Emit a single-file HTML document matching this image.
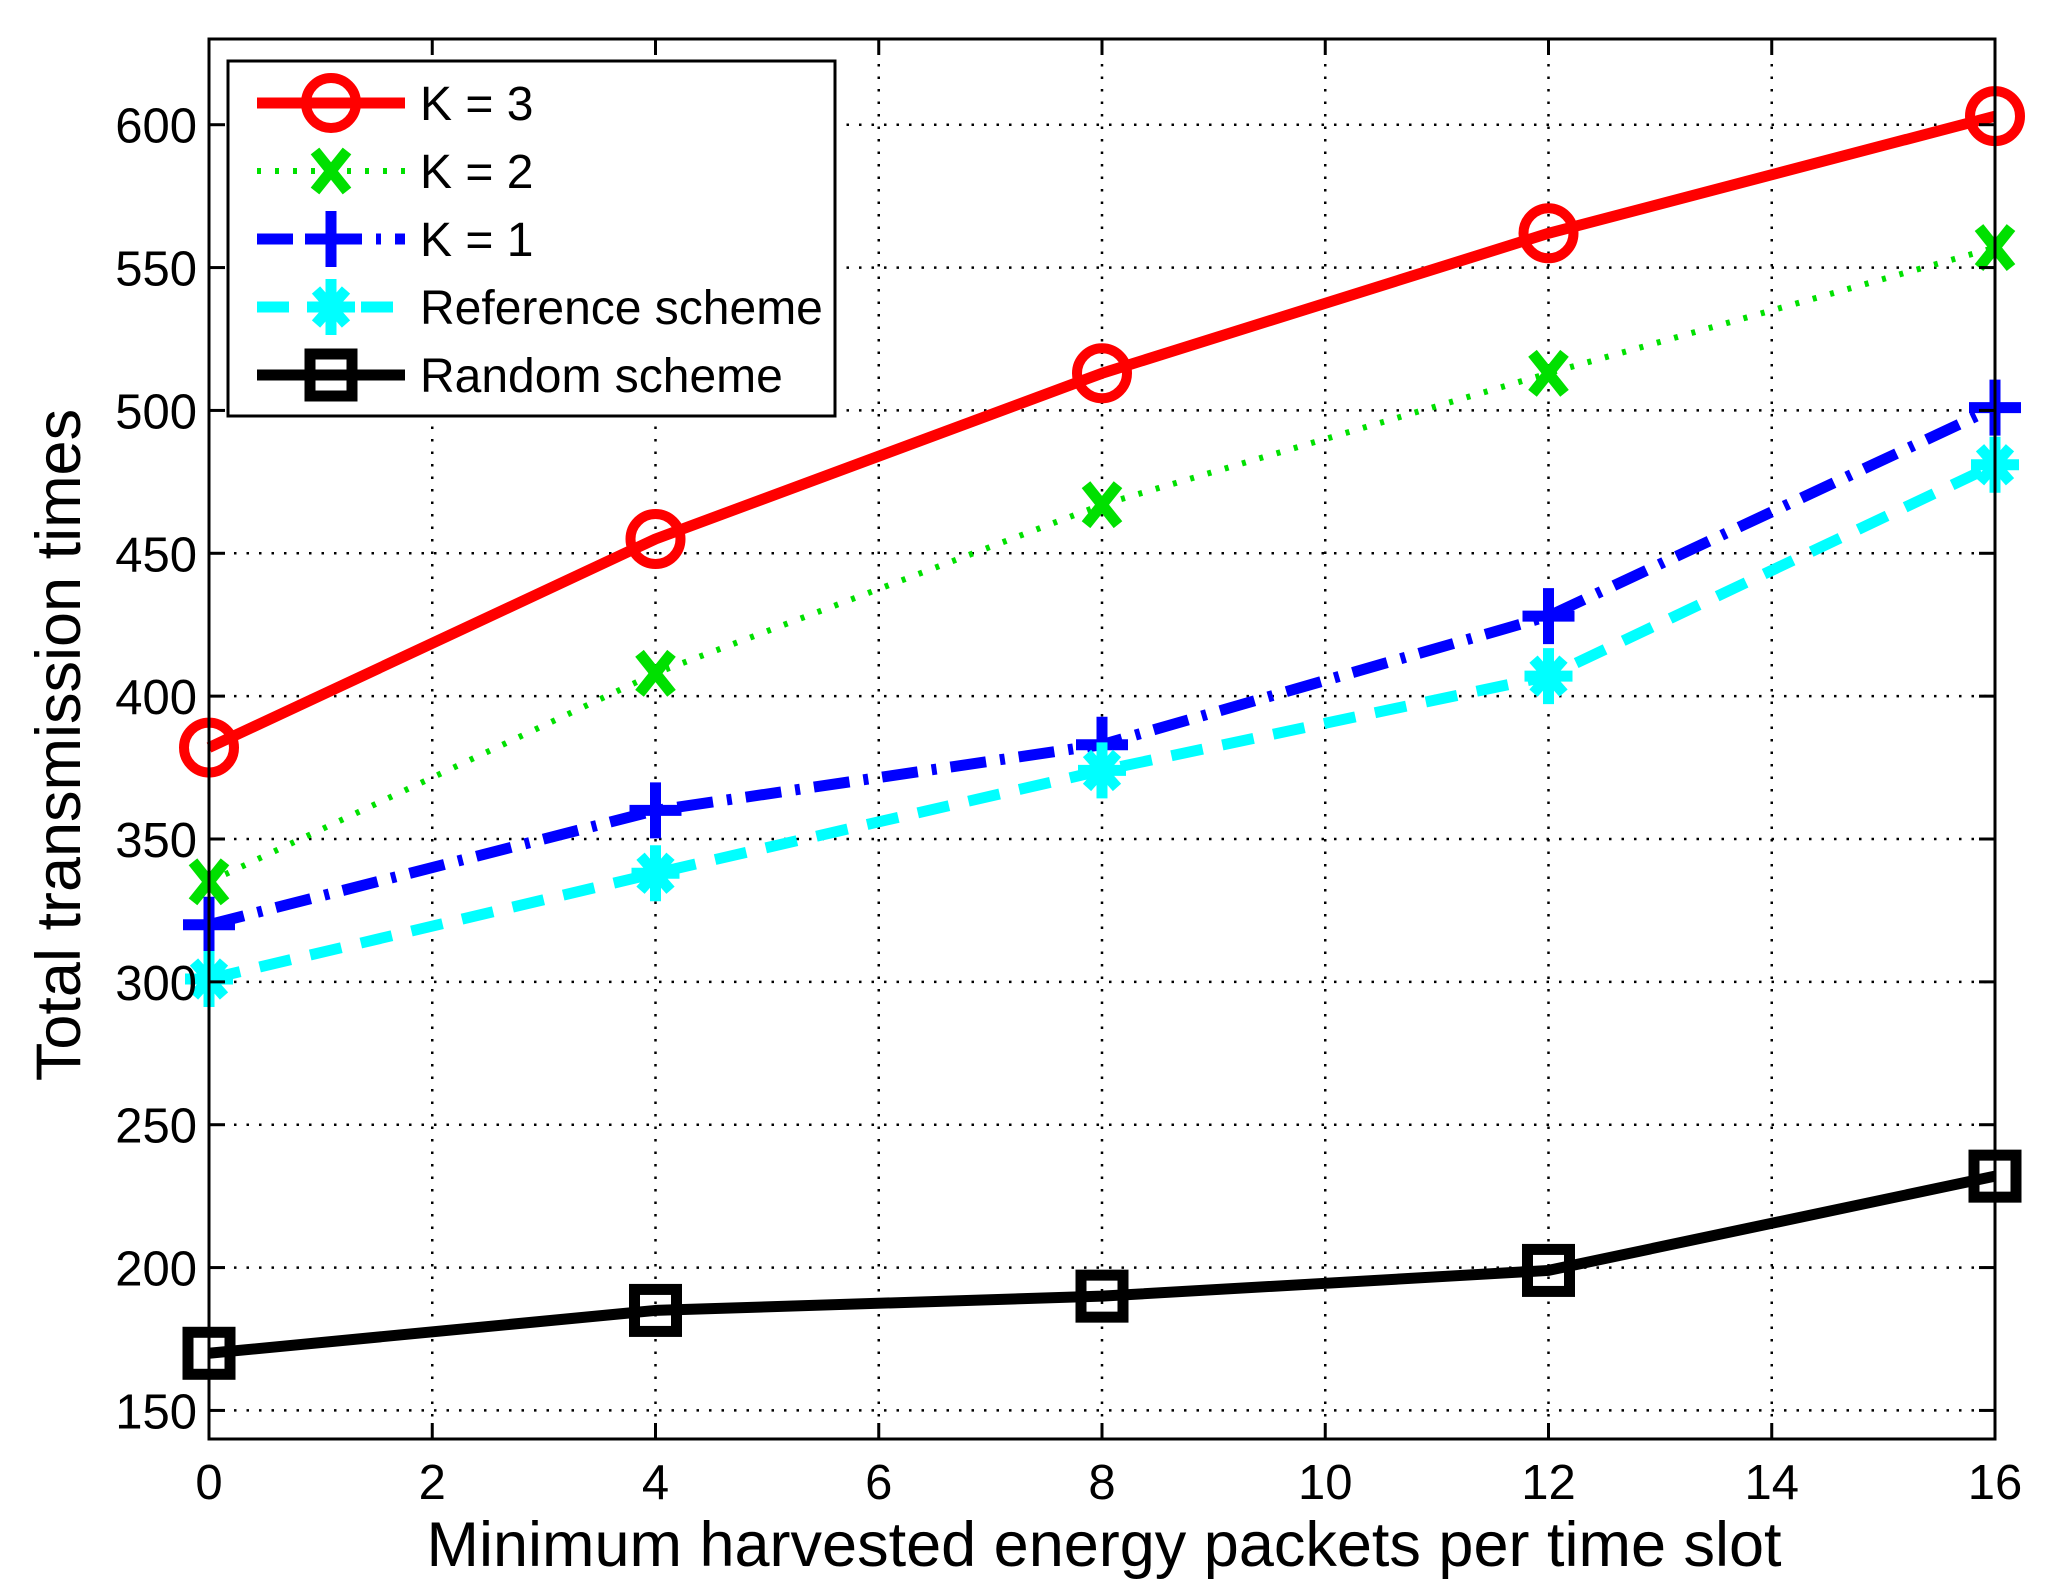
<!DOCTYPE html>
<html><head><meta charset="utf-8"><style>
html,body{margin:0;padding:0;background:#fff}
svg{display:block;font-family:"Liberation Sans",Arial,sans-serif}
</style></head><body>
<svg id="chart" width="2047" height="1593" viewBox="0 0 2047 1593">
<rect x="0" y="0" width="2047" height="1593" fill="#fff"/>
<g id="grid"></g>
<g id="series"></g>
<g id="axes"></g>
<g id="legend"></g>
</svg>
<script>
const xValues = [0, 4, 8, 12, 16];
const k3 = [382, 455, 513, 562, 603];
const k2 = [335, 408, 467, 513, 557];
const k1 = [320, 360, 383, 428, 501];
const refScheme = [301, 338, 374, 407, 481];
const randScheme = [170, 185, 190, 199, 232];
const xTicks = [0, 2, 4, 6, 8, 10, 12, 14, 16];
const yTicks = [150, 200, 250, 300, 350, 400, 450, 500, 550, 600];
const seriesNames = ["K = 3", "K = 2", "K = 1", "Reference scheme", "Random scheme"];

const L=209,R=1995,T=39,B=1439,xMin=0,xMax=16,yMin=140,yMax=630;
const sx=v=>L+(v-xMin)/(xMax-xMin)*(R-L);
const sy=v=>B-(v-yMin)/(yMax-yMin)*(B-T);
const NS="http://www.w3.org/2000/svg";
function mk(tag,attrs,parent){const e=document.createElementNS(NS,tag);for(const k in attrs)e.setAttribute(k,attrs[k]);parent.appendChild(e);return e;}
const grid=document.getElementById('grid'),axes=document.getElementById('axes'),ser=document.getElementById('series'),leg=document.getElementById('legend');

xTicks.forEach(t=>{
  const x=sx(t);
  if(t>xMin&&t<xMax){const g=mk('line',{x1:x,y1:T,x2:x,y2:B,stroke:'#000','stroke-width':2.5,'stroke-dasharray':'2.5 10'},grid);
  
  }
  mk('line',{x1:x,y1:B,x2:x,y2:B-16,stroke:'#000','stroke-width':3},axes);
  mk('line',{x1:x,y1:T,x2:x,y2:T+16,stroke:'#000','stroke-width':3},axes);
  const tx=mk('text',{x:x,y:1499,'font-size':49,'text-anchor':'middle'},axes);
  tx.textContent=t;
  
  
});
yTicks.forEach(t=>{
  const y=sy(t);
  const g=mk('line',{x1:L,y1:y,x2:R,y2:y,stroke:'#000','stroke-width':2.5,'stroke-dasharray':'2.5 10'},grid);
  
  
  mk('line',{x1:L,y1:y,x2:L+16,y2:y,stroke:'#000','stroke-width':3},axes);
  mk('line',{x1:R,y1:y,x2:R-16,y2:y,stroke:'#000','stroke-width':3},axes);
  const tx=mk('text',{x:197,y:y+18,'font-size':49,'text-anchor':'end'},axes);
  tx.textContent=t;
  
  
});
mk('rect',{x:L,y:T,width:R-L,height:B-T,fill:'none',stroke:'#000','stroke-width':3},axes);
const xl=mk('text',{x:(L+R)/2+2,y:1566,'font-size':63,'text-anchor':'middle'},axes);
xl.textContent='Minimum harvested energy packets per time slot';


const yl=mk('text',{x:0,y:0,'font-size':63,'text-anchor':'middle',transform:'translate(80 '+((T+B)/2+6)+') rotate(-90)'},axes);
yl.textContent='Total transmission times';



function marker(type,x,y,color,parent){
  const g=mk('g',{},parent);
  if(type==='o')mk('circle',{cx:x,cy:y,r:25,fill:'none',stroke:color,'stroke-width':10},g);
  else if(type==='x'){mk('path',{d:`M${x-16} ${y-20}L${x+16} ${y+20}M${x+16} ${y-20}L${x-16} ${y+20}`,stroke:color,'stroke-width':11},g);}
  else if(type==='+'){mk('path',{d:`M${x-26} ${y}H${x+26}M${x} ${y-28}V${y+28}`,stroke:color,'stroke-width':11},g);}
  else if(type==='*'){mk('path',{d:`M${x-24} ${y}H${x+24}M${x} ${y-28}V${y+28}M${x-15} ${y-17}L${x+15} ${y+17}M${x+15} ${y-17}L${x-15} ${y+17}`,stroke:color,'stroke-width':11},g);}
  else if(type==='s'){mk('rect',{x:x-21,y:y-21,width:42,height:42,fill:'none',stroke:color,'stroke-width':11},g);}
  return g;
}
const specs=[
 {data:k3,color:'#ff0000',dash:'',w:11,m:'o',name:'series-k3'},
 {data:k2,color:'#00e000',dash:'4 14',w:6,m:'x',name:'series-k2'},
 {data:k1,color:'#0000ff',dash:'36 14 5 14',w:11,m:'+',name:'series-k1'},
 {data:refScheme,color:'#00ffff',dash:'32 20',w:11,m:'*',name:'series-reference'},
 {data:randScheme,color:'#000000',dash:'',w:11,m:'s',name:'series-random'}
];
specs.forEach(s=>{
  const pts=s.data.map((v,i)=>sx(xValues[i])+','+sy(v)).join(' ');
  const pl=mk('polyline',{points:pts,fill:'none',stroke:s.color,'stroke-width':s.w,'stroke-dasharray':s.dash,'stroke-linejoin':'round'},ser);
  
  
  s.data.forEach((v,i)=>{
    const g=marker(s.m,sx(xValues[i]),sy(v),s.color,ser);
    
    
  });
});
const lb=mk('rect',{x:228,y:61,width:607,height:355,fill:'#fff',stroke:'#000','stroke-width':3},leg);


specs.forEach((s,i)=>{
  const y=103+i*68;
  const g=mk('g',{},leg);
  
  
  mk('line',{x1:257,y1:y,x2:405,y2:y,stroke:s.color,'stroke-width':s.w,'stroke-dasharray':s.dash},g);
  marker(s.m,331,y,s.color,g);
  const t=mk('text',{x:420,y:y+17,'font-size':48},g);
  t.textContent=seriesNames[i];
});
</script>
</body></html>
